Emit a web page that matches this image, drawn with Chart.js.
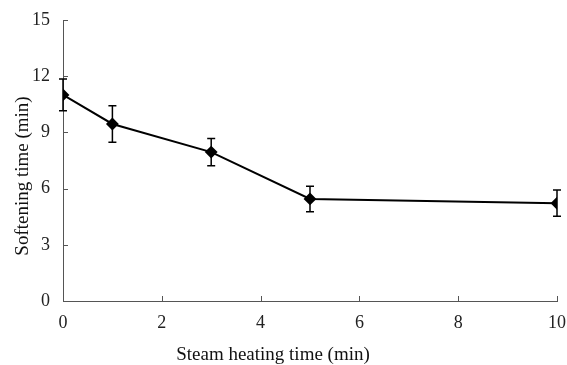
<!DOCTYPE html>
<html>
<head>
<meta charset="utf-8">
<script src="https://cdn.jsdelivr.net/npm/chart.js@4.4.0/dist/chart.umd.min.js"></script>
<style>
  html, body { margin: 0; padding: 0; background: #fff; }
  #wrap { width: 567px; height: 365px; }
</style>
</head>
<body>
<div id="wrap"><canvas id="grafico" width="567" height="365"></canvas></div>
<script>
// ------------ Data ------------ //

var steamTimes = [0, 1, 3, 5, 10];
var softeningTimes = [11.0, 9.45, 7.95, 5.45, 5.22];
var errors = [0.85, 0.97, 0.73, 0.68, 0.7];
var xTicks = [0, 2, 4, 6, 8, 10];
var yTicks = [0, 3, 6, 9, 12, 15];
var xTitle = 'Steam heating time (min)';
var yTitle = 'Softening time (min)';

var axisColor = '#555';
var serif = '"Liberation Serif", "DejaVu Serif", serif';

// ------------ Error bars, inward ticks, axis titles ------------ //

var errorBarPlugin = {
    id: 'errorBars',
    afterDatasetsDraw: function (chart) {
        var ctx = chart.ctx;
        var xs = chart.scales.x, ys = chart.scales.y;
        ctx.save();
        ctx.strokeStyle = '#000';
        ctx.lineWidth = 1.5;
        for (var i = 0; i < steamTimes.length; i++) {
            var px = xs.getPixelForValue(steamTimes[i]);
            var top = ys.getPixelForValue(softeningTimes[i] + errors[i]);
            var bot = ys.getPixelForValue(softeningTimes[i] - errors[i]);
            ctx.beginPath();
            ctx.moveTo(px, top); ctx.lineTo(px, bot);
            ctx.moveTo(px - 4, top); ctx.lineTo(px + 4, top);
            ctx.moveTo(px - 4, bot); ctx.lineTo(px + 4, bot);
            ctx.stroke();
        }
        ctx.restore();
    },
    beforeDatasetsDraw: function (chart) {
        var ctx = chart.ctx;
        var xs = chart.scales.x, ys = chart.scales.y;
        var area = chart.chartArea;
        ctx.save();
        ctx.strokeStyle = axisColor;
        ctx.lineWidth = 1;
        ctx.beginPath();
        yTicks.forEach(function (v) {
            if (v === 0) return;
            var py = Math.round(ys.getPixelForValue(v)) + 0.5;
            ctx.moveTo(area.left, py); ctx.lineTo(area.left + 5, py);
        });
        xTicks.forEach(function (v) {
            if (v === 0) return;
            var px = Math.round(xs.getPixelForValue(v)) + 0.5;
            ctx.moveTo(px, area.bottom); ctx.lineTo(px, area.bottom - 5);
        });
        ctx.stroke();

        // axis titles (placed like in the original figure, not centred on the plot)
        ctx.fillStyle = '#111';
        ctx.font = '19px ' + serif;
        ctx.textAlign = 'center';
        ctx.textBaseline = 'middle';
        ctx.fillText(xTitle, 273, 355);
        ctx.translate(23, 176);
        ctx.rotate(-Math.PI / 2);
        ctx.fillText(yTitle, 0, 0);
        ctx.restore();
    }
};

// ------------ Chart ------------ //

var ctxGrafico = document.getElementById('grafico').getContext('2d');
var grafico = new Chart(ctxGrafico, {
    type: 'scatter',
    data: {
        datasets: [{
            data: steamTimes.map(function (t, i) { return { x: t, y: softeningTimes[i] }; }),
            showLine: true,
            borderColor: '#000',
            backgroundColor: '#000',
            borderWidth: 2,
            pointStyle: 'rectRot',
            pointRadius: 5,
            pointHoverRadius: 5
        }]
    },
    options: {
        responsive: false,
        animation: false,
        layout: { padding: { top: 20, right: 10, left: 0, bottom: 0 } },
        plugins: {
            legend: { display: false },
            tooltip: { enabled: false }
        },
        scales: {
            x: {
                type: 'linear',
                min: 0,
                max: 10,
                afterBuildTicks: function (s) { s.ticks = xTicks.map(function (v) { return { value: v }; }); },
                afterFit: function (s) { s.height = 64; s.paddingLeft = 0; s.paddingRight = 0; },
                grid: { display: false, drawTicks: false },
                border: { display: true, color: axisColor, width: 1 },
                ticks: { color: '#222', padding: 11, font: { family: serif, size: 18 } }
            },
            y: {
                min: 0,
                max: 15,
                afterBuildTicks: function (s) { s.ticks = yTicks.map(function (v) { return { value: v }; }); },
                afterFit: function (s) { s.width = 63; s.paddingTop = 0; s.paddingBottom = 0; },
                grid: { display: false, drawTicks: false },
                border: { display: true, color: axisColor, width: 1 },
                ticks: { color: '#222', padding: 13, font: { family: serif, size: 18 } }
            }
        }
    },
    plugins: [errorBarPlugin]
});
</script>
</body>
</html>
